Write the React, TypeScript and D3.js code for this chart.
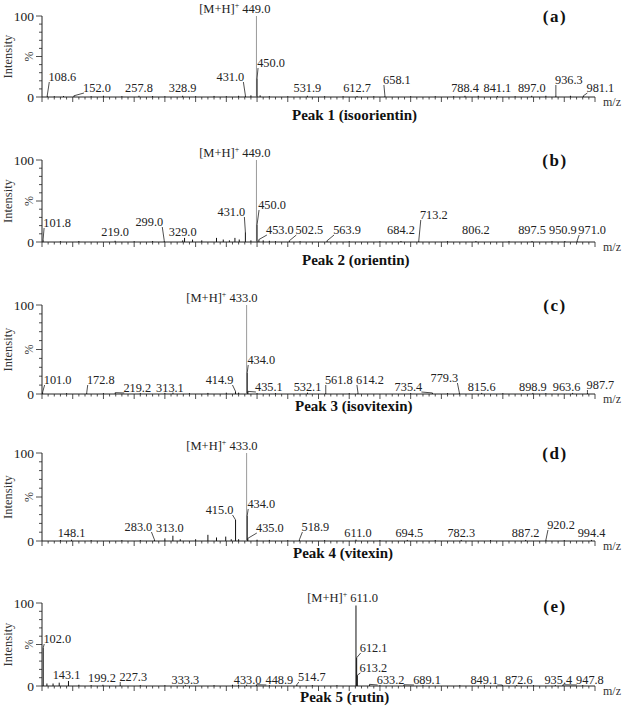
import React from 'react';
import * as d3 from 'd3';

// ---------- DATA ----------
const mzDomain: [number, number] = [100, 1000];
const panelTags = ['(a)', '(b)', '(c)', '(d)', '(e)'];
const captions = ['Peak 1 (isoorientin)', 'Peak 2 (orientin)', 'Peak 3 (isovitexin)', 'Peak 4 (vitexin)', 'Peak 5 (rutin)'];
const precursorMz = [449.0, 449.0, 433.0, 433.0, 611.0];
const precursorIntensity = [100, 100, 100, 100, 97];
const yTickLabels = [0, 100];

// labelled fragment peaks: [m/z, relative intensity %]
const peaksA = [[108.6, 2], [152.0, 1.5], [257.8, 1.5], [328.9, 1.5], [431.0, 2], [450.0, 23], [531.9, 1.5], [612.7, 1.2], [658.1, 1.5], [788.4, 1.5], [841.1, 1.2], [897.0, 1.5], [936.3, 2], [981.1, 1.5]];
const peaksB = [[101.8, 3], [219.0, 1.5], [299.0, 1.5], [329.0, 2], [431.0, 12], [450.0, 21], [453.0, 3], [502.5, 1.5], [563.9, 1.5], [684.2, 1.2], [713.2, 1.5], [806.2, 1.2], [897.5, 1.2], [950.9, 1.2], [971.0, 1.5]];
const peaksC = [[101.0, 2], [172.8, 1.5], [219.2, 1.5], [313.1, 1.5], [414.9, 3], [434.0, 24], [435.1, 3], [532.1, 1.5], [561.8, 1.5], [614.2, 1.5], [735.4, 1.2], [779.3, 1.2], [815.6, 1.2], [898.9, 1.2], [963.6, 1.2], [987.7, 1.5]];
const peaksD = [[148.1, 1.5], [283.0, 1.5], [313.0, 6], [415.0, 24], [434.0, 29], [435.0, 3], [518.9, 1.5], [611.0, 1.5], [694.5, 1.2], [782.3, 1.2], [887.2, 1.2], [920.2, 1.5], [994.4, 1.2]];
const peaksE = [[102.0, 46], [143.1, 6], [199.2, 1.5], [227.3, 1.5], [333.3, 1.2], [433.0, 1.5], [448.9, 1.5], [514.7, 1.5], [612.1, 34], [613.2, 13], [633.2, 2], [689.1, 1.5], [849.1, 1.2], [872.6, 1.2], [935.4, 1.2], [947.8, 1.5]];

// unlabelled minor peaks: [m/z, relative intensity %]
const minorA = [[120, 1], [135, 1.2], [180, 1], [200, 1.5], [230, 1], [280, 1.2], [300, 1], [350, 1], [380, 1.3], [400, 1], [420, 1.5], [440, 2], [455, 2], [470, 1], [500, 1], [560, 1], [590, 1], [640, 1], [700, 1], [740, 1], [770, 1], [810, 1.5], [870, 1], [920, 1.5], [960, 1.5]];
const minorB = [[130, 1], [160, 1.2], [250, 1], [280, 1.2], [332, 5], [345, 3], [360, 2], [384, 5], [395, 3], [405, 2], [414, 5], [421, 3], [440, 2], [460, 2], [470, 1.5], [480, 1], [520, 1], [600, 1], [650, 1], [760, 1], [860, 1], [930, 1]];
const minorC = [[140, 1], [200, 1], [260, 1], [300, 1.2], [340, 1], [370, 1.2], [400, 1.5], [420, 1.5], [450, 1], [480, 1], [600, 1], [700, 1], [760, 1], [850, 1], [920, 1]];
const minorD = [[130, 1], [180, 1], [230, 1], [260, 1], [300, 3], [325, 2], [350, 2], [370, 7], [384, 4], [399, 5], [408, 2], [420, 2], [450, 1.5], [470, 1.2], [500, 1], [560, 1], [650, 1], [740, 1], [830, 1], [950, 1]];
const minorE = [[108, 3], [118, 3], [128, 4], [160, 1.5], [180, 1], [260, 1], [300, 1], [380, 1], [410, 1.5], [420, 1.5], [470, 1], [540, 1], [580, 1], [650, 1], [720, 1], [780, 1], [820, 1], [900, 1], [980, 1]];

const peakSets = [peaksA, peaksB, peaksC, peaksD, peaksE];
const minorSets = [minorA, minorB, minorC, minorD, minorE];

// ---------- LAYOUT ----------
// per panel: top (100 %) and base (0 %) pixel rows
const panelTop = [16, 160, 305, 453, 603];
const panelBase = [97, 242, 394, 541, 686];
const captionX = [292, 302, 295, 293, 300];
const captionDy = [23, 23, 17, 17, 16];
const precursorLabelDx = [0, 0, -3, -3, 8];
// label layout per labelled peak: [dx px from peak, label centre height above base px, leader 0/1]
const layoutA = [[15, 20, 1], [23, 9, 1], [0, 9, 0], [0, 9, 0], [-15, 20, 1], [14, 34, 1], [0, 9, 0], [0, 9, 0], [12, 17, 1], [0, 9, 0], [0, 9, 0], [0, 9, 0], [13, 17, 1], [17, 9, 1]];
const layoutB = [[14, 19, 1], [0, 10, 0], [-15, 20, 1], [0, 10, 0], [-14, 30, 1], [15, 37, 1], [21, 12, 1], [20, 12, 1], [20, 12, 1], [0, 12, 0], [15, 27, 1], [0, 12, 0], [0, 12, 0], [-2, 12, 0], [15, 12, 1]];
const layoutC = [[15, 14, 1], [14, 14, 1], [22, 6, 1], [-3, 6, 0], [-16, 14, 1], [14, 34, 1], [21, 7, 1], [0, 7, 0], [13, 14, 1], [12, 14, 1], [-24, 7, 1], [-15, 16, 1], [0, 7, 0], [0, 7, 0], [-6, 7, 0], [13, 9, 1]];
const layoutD = [[0, 8, 0], [-16, 14, 1], [-3, 13, 0], [-16, 31, 1], [14, 37, 1], [22, 13, 1], [16, 14, 1], [2, 8, 0], [2, 8, 0], [0, 8, 0], [0, 8, 0], [15, 16, 1], [0, 8, 0]];
const layoutE = [[14, 47, 1], [-2, 11, 0], [-1, 8, 0], [13, 9, 1], [0, 6, 0], [1, 6, 0], [23, 6, 1], [15, 9, 1], [17, 38, 1], [16, 18, 1], [21, 6, 1], [23, 6, 1], [-18, 6, 1], [2, 6, 0], [3, 6, 0], [27, 6, 1]];
const layoutSets = [layoutA, layoutB, layoutC, layoutD, layoutE];

const W = 624;
const H = 706;
const FONT = '"Liberation Serif", "Times New Roman", Times, serif';
const LABEL_W = 28;
const LABEL_FS = 12.3;

const x = d3.scaleLinear().domain(mzDomain).range([42, 595]);

function Panel({ i }: { i: number }) {
  const y = d3.scaleLinear().domain([0, 100]).range([panelBase[i], panelTop[i]]);
  const base = panelBase[i];
  const peaks = peakSets[i];
  const layout = layoutSets[i];
  const minor = minorSets[i];
  const xMinor = d3.range(100, 1001, 10);
  const yMinor = d3.range(0, 101, 10);
  const pmz = precursorMz[i];
  const px = x(pmz);
  const pTop = y(precursorIntensity[i]);
  const mainColor = i === 4 ? '#111' : '#9a9a9a';

  return (
    <g>
      {/* y axis */}
      <line x1={42} x2={42} y1={y(100)} y2={base} stroke="#222" strokeWidth={1} />
      {yMinor.map((t) => (
        <line key={'yt' + t} x1={t % 50 === 0 ? 36 : 39} x2={42} y1={y(t)} y2={y(t)} stroke="#222" strokeWidth={0.8} />
      ))}
      {yTickLabels.map((t) => (
        <text key={'yl' + t} x={34} y={y(t) + 4.5} textAnchor="end" fontSize={13.5} fontFamily={FONT} fill="#222">{t}</text>
      ))}
      <text transform={`translate(${29},${y(50)}) rotate(-90)`} textAnchor="middle" dominantBaseline="central" fontSize={12} fontFamily={FONT} fill="#333">%</text>
      <text transform={`translate(${8},${y(50)}) rotate(-90)`} textAnchor="middle" dominantBaseline="central" fontSize={12.5} fontFamily={FONT} fill="#333">Intensity</text>

      {/* x axis */}
      <line x1={42} x2={595} y1={base} y2={base} stroke="#222" strokeWidth={1} />
      {xMinor.map((t) => (
        <line key={'xt' + t} x1={x(t)} x2={x(t)} y1={base} y2={base + (t % 50 === 0 ? 5 : 2.5)} stroke="#222" strokeWidth={0.8} />
      ))}
      <text x={603} y={base + 9} fontSize={12} fontFamily={FONT} fill="#333">m/z</text>

      {/* minor peaks */}
      {minor.map(([m, v], k) => (
        <line key={'mn' + k} x1={x(m)} x2={x(m)} y1={base} y2={y(v)} stroke="#111" strokeWidth={1} />
      ))}

      {/* precursor */}
      <line x1={px} x2={px} y1={base} y2={pTop} stroke={mainColor} strokeWidth={1} />
      <text x={px + 14 + precursorLabelDx[i]} y={pTop - 3} textAnchor="end" fontSize={12.5} fontFamily={FONT} fill="#222">
        <tspan>[M+H]</tspan>
        <tspan fontSize={8} dy={-5}>+</tspan>
        <tspan dy={5}>{' ' + pmz.toFixed(1)}</tspan>
      </text>

      {/* labelled peaks */}
      {peaks.map(([m, v], k) => {
        const [dx, h, leader] = layout[k];
        const pxk = x(m);
        const top = y(v);
        const lx = pxk + dx;
        const cy = base - h;
        const ex = dx > 0 ? lx - LABEL_W / 2 + 1 : lx + LABEL_W / 2 - 1;
        return (
          <g key={'pk' + k}>
            <line x1={pxk} x2={pxk} y1={base} y2={top} stroke="#111" strokeWidth={1} />
            {leader ? <line x1={pxk} y1={top} x2={ex} y2={cy + 5} stroke="#222" strokeWidth={0.8} /> : null}
            <text x={lx} y={cy + 4.3} textAnchor="middle" fontSize={LABEL_FS} fontFamily={FONT} fill="#222">{m.toFixed(1)}</text>
          </g>
        );
      })}

      {/* captions */}
      <text x={captionX[i]} y={base + captionDy[i]} fontSize={15} fontWeight="bold" fontFamily={FONT} fill="#111">{captions[i]}</text>
      <text x={555} y={panelTop[i] + 6 + (i === 4 ? 3 : 0)} textAnchor="middle" fontSize={17} fontWeight="bold" letterSpacing={1.5} fontFamily={FONT} fill="#111">{panelTags[i]}</text>
    </g>
  );
}

export default function App() {
  return (
    <svg width={W} height={H} viewBox={`0 0 ${W} ${H}`} style={{ position: 'absolute', left: 0, top: 0, background: '#fff' }}>
      <rect width={W} height={H} fill="#fff" />
      {panelTags.map((_, i) => (
        <Panel key={i} i={i} />
      ))}
    </svg>
  );
}
